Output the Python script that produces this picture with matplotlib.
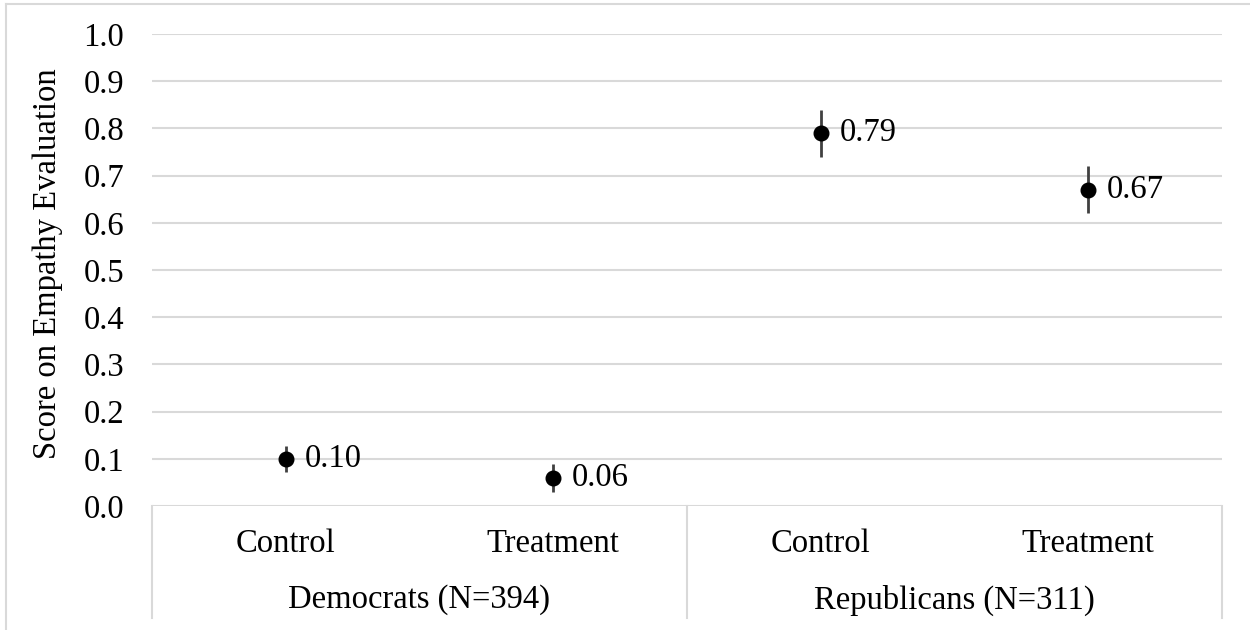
import matplotlib
matplotlib.use("Agg")
import matplotlib.pyplot as plt
from matplotlib.lines import Line2D

# Data
conditions = ["Control", "Treatment", "Control", "Treatment"]
groups = ["Democrats (N=394)", "Republicans (N=311)"]
scores = [0.10, 0.06, 0.79, 0.67]
errors = [0.027, 0.03, 0.05, 0.05]
yticks = [0.0, 0.1, 0.2, 0.3, 0.4, 0.5, 0.6, 0.7, 0.8, 0.9, 1.0]

W, H = 1250, 630
plt.rcParams["font.family"] = ["Liberation Serif", "DejaVu Serif"]
FS = 23.5

fig = plt.figure(figsize=(W / 100, H / 100), dpi=100)

def fx(px):
    return px / W

def fy(py):
    return 1 - py / H

left, right, top, bottom = 152, 1222, 34, 506
ax = fig.add_axes([fx(left), fy(bottom), fx(right - left), fy(top) - fy(bottom)])
ax.set_xlim(0, len(scores))
ax.set_ylim(0, 1.0)
ax.set_yticks(yticks)
ax.set_yticklabels([f"{t:.1f}" for t in yticks], fontsize=FS)
ax.tick_params(axis="y", length=0, pad=20)
ax.set_xticks([])
for s in ax.spines.values():
    s.set_visible(False)
ax.yaxis.grid(True, color="#d9d9d9", linewidth=1.5)
ax.set_axisbelow(True)

xs = [i + 0.5 for i in range(len(scores))]
ax.errorbar(xs, scores, yerr=errors, fmt="none", ecolor="#404040",
            elinewidth=2.0, capsize=0, zorder=3)
ax.plot(xs, scores, "o", color="black", markersize=10.5, zorder=4)
for x, v in zip(xs, scores):
    ax.annotate(f"{v:.2f}", (x, v), xytext=(13.5, 0), textcoords="offset points",
                ha="left", va="center", fontsize=FS)

# Multi-level category axis
grid_c = "#d9d9d9"
box_bottom = 618
for px in (left, (left + right) / 2, right):
    fig.add_artist(Line2D([fx(px), fx(px)], [fy(bottom), fy(box_bottom)],
                          color=grid_c, linewidth=1.5))
cat_w = (right - left) / len(conditions)
for i, c in enumerate(conditions):
    fig.text(fx(left + cat_w * (i + 0.5)), fy(544), c, ha="center", va="center", fontsize=FS)
grp_w = (right - left) / len(groups)
for i, g in enumerate(groups):
    fig.text(fx(left + grp_w * (i + 0.5)), fy(600), g, ha="center", va="center", fontsize=FS)

fig.text(fx(48), fy(264), "Score on Empathy Evaluation", rotation=90,
         ha="center", va="center", fontsize=FS)

# Outer frame
fig.add_artist(Line2D([fx(6), fx(6)], [fy(4), 0], color=grid_c, linewidth=1.5))
fig.add_artist(Line2D([fx(6), 1], [fy(4), fy(4)], color=grid_c, linewidth=1.5))

fig.savefig("out.png", dpi=100)
